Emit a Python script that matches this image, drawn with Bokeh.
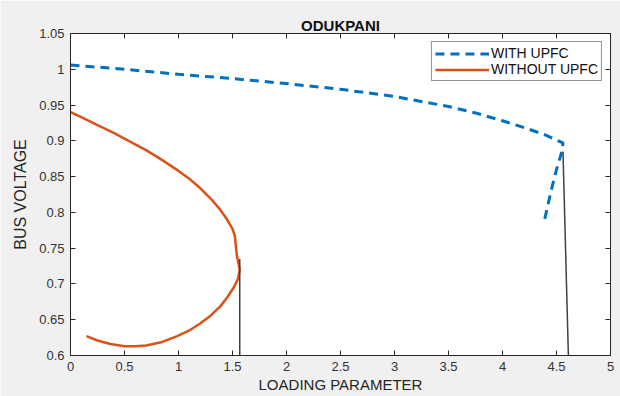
from bokeh.plotting import figure
from bokeh.models import (Range1d, LinearAxis, FixedTicker, CustomJSTickFormatter,
                          Legend, LegendItem)
from bokeh.embed import file_html
from bokeh.resources import INLINE

# P-V curves at the Odukpani bus
with_upfc_x = [0.0, 0.5, 1.0, 1.5, 2.0, 2.5, 3.0, 3.5, 3.75, 4.0, 4.25, 4.4, 4.56,
               4.55, 4.5, 4.45, 4.39]
with_upfc_y = [1.006, 1.000, 0.993, 0.987, 0.980, 0.972, 0.962, 0.948, 0.939,
               0.928, 0.916, 0.908, 0.897, 0.885, 0.860, 0.830, 0.790]

without_upfc_x = [0.0, 0.1, 0.25, 0.4, 0.525, 0.7, 0.85, 1.0, 1.1, 1.2, 1.3,
                  1.38, 1.45, 1.5, 1.522, 1.54, 1.567,
                  1.55, 1.512, 1.45, 1.389, 1.3, 1.204, 1.1, 0.988, 0.85, 0.7,
                  0.6, 0.5, 0.37, 0.25, 0.148]
without_upfc_y = [0.940, 0.933, 0.922, 0.911, 0.901, 0.887, 0.873, 0.858, 0.847,
                  0.834, 0.819, 0.805, 0.790, 0.777, 0.767, 0.740, 0.720,
                  0.707, 0.695, 0.681, 0.669, 0.656, 0.645, 0.635, 0.627, 0.619,
                  0.614, 0.613, 0.613, 0.616, 0.621, 0.627]

# vertical drops at the collapse points
drop_without_x = [1.567, 1.567]
drop_without_y = [0.735, 0.600]
drop_with_x = [4.56, 4.61]
drop_with_y = [0.885, 0.600]

x_ticks = [0, 0.5, 1, 1.5, 2, 2.5, 3, 3.5, 4, 4.5, 5]
y_ticks = [0.6, 0.65, 0.7, 0.75, 0.8, 0.85, 0.9, 0.95, 1.0, 1.05]

FONT = "Liberation Sans"
AX_COLOR = "#262626"

p = figure(width=620, height=396, output_backend="svg", toolbar_location=None,
           x_range=Range1d(0, 5), y_range=Range1d(0.6, 1.05),
           min_border_left=70, min_border_right=10, min_border_top=33,
           min_border_bottom=41)
p.border_fill_color = "#f0f0f0"
p.background_fill_color = "white"
p.outline_line_color = AX_COLOR
p.outline_line_width = 1
p.xgrid.visible = False
p.ygrid.visible = False

p.title.text = "ODUKPANI"
p.title.text_font = FONT
p.title.text_font_size = "15px"
p.title.text_font_style = "bold"
p.title.align = "center"
p.title.text_color = "#111111"
p.title.offset = 0
p.title.standoff = 0

xfmt = CustomJSTickFormatter(code="return String(+tick.toFixed(1));")
yfmt = CustomJSTickFormatter(code="return String(+tick.toFixed(2));")

def style_axis(ax, ticks, fmt, show_labels=True):
    ax.ticker = FixedTicker(ticks=ticks)
    ax.formatter = fmt
    ax.major_tick_in = 5
    ax.major_tick_out = 0
    ax.minor_tick_in = 0
    ax.minor_tick_out = 0
    ax.axis_line_color = AX_COLOR
    ax.major_tick_line_color = AX_COLOR
    ax.major_label_text_font = FONT
    ax.major_label_text_font_size = "13px" if show_labels else "0px"
    ax.major_label_text_color = "#333333"
    if not show_labels:
        ax.major_label_standoff = 0
        ax.major_label_text_alpha = 0

style_axis(p.xaxis[0], x_ticks, xfmt)
style_axis(p.yaxis[0], y_ticks, yfmt)
p.xaxis[0].major_label_standoff = 6
p.yaxis[0].major_label_standoff = 6
p.xaxis[0].axis_label = "LOADING PARAMETER"
p.yaxis[0].axis_label = "BUS VOLTAGE"
for ax in (p.xaxis[0], p.yaxis[0]):
    ax.axis_label_text_font = FONT
    ax.axis_label_text_font_size = "15px"
    ax.axis_label_text_font_style = "normal"
    ax.axis_label_text_color = "#262626"
p.yaxis[0].axis_label_text_font_size = "16px"
p.xaxis[0].axis_label_standoff = 2
p.yaxis[0].axis_label_standoff = 7

top_axis = LinearAxis()
right_axis = LinearAxis()
style_axis(top_axis, x_ticks, xfmt, show_labels=False)
style_axis(right_axis, y_ticks, yfmt, show_labels=False)
p.add_layout(top_axis, "above")
p.add_layout(right_axis, "right")

r_with = p.line(with_upfc_x, with_upfc_y, line_color="#0072BD", line_width=3,
                line_dash="9 6")
r_without = p.line(without_upfc_x, without_upfc_y, line_color="#D95319",
                   line_width=2.5, line_join="round")
p.line(drop_without_x, drop_without_y, line_color="#404040", line_width=1.5)
p.line(drop_with_x, drop_with_y, line_color="#404040", line_width=1.5)

legend = Legend(items=[LegendItem(label="WITH UPFC", renderers=[r_with]),
                       LegendItem(label="WITHOUT UPFC", renderers=[r_without])],
                location="top_right")
legend.label_text_font = FONT
legend.label_text_font_size = "14px"
legend.label_text_color = "#111111"
legend.glyph_width = 54
legend.glyph_height = 15
legend.label_height = 15
legend.label_standoff = 2
legend.spacing = 0
legend.padding = 3
legend.margin = 8
legend.border_line_color = AX_COLOR
legend.border_line_width = 1
legend.background_fill_alpha = 1
p.add_layout(legend)

open("out.html", "w").write(file_html(p, INLINE))
